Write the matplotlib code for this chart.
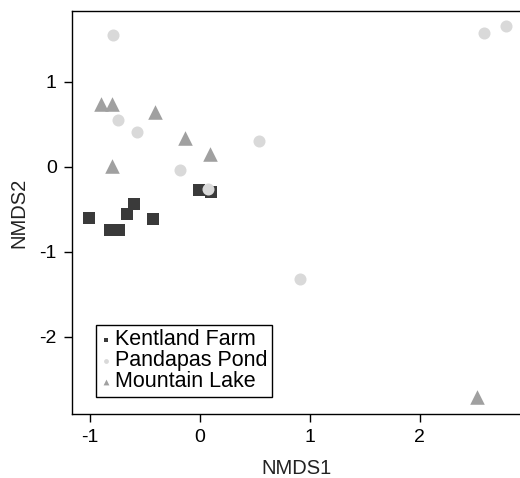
import matplotlib
matplotlib.use('Agg')
import matplotlib.pyplot as plt

plt.rcParams['font.family'] = ['Liberation Sans', 'DejaVu Sans']
plt.rcParams['axes.unicode_minus'] = False

# NMDS scores
kentland_x = [-1.01, -0.82, -0.74, -0.66, -0.60, -0.43, -0.01, 0.10]
kentland_y = [-0.60, -0.74, -0.74, -0.55, -0.435, -0.61, -0.27, -0.30]

pandapas_x = [-0.79, 2.58, 2.78, -0.75, -0.57, 0.54, -0.18, 0.07, 0.91]
pandapas_y = [1.55, 1.58, 1.66, 0.55, 0.41, 0.31, -0.035, -0.26, -1.32]

mountain_x = [-0.90, -0.80, -0.41, -0.80, -0.14, 0.09, 2.52]
mountain_y = [0.74, 0.74, 0.65, 0.015, 0.34, 0.157, -2.71]

fig = plt.figure(figsize=(5.2, 4.78), dpi=100)
ax = fig.add_axes([0.1385, 0.134, 0.8615, 0.843])

ax.scatter(kentland_x, kentland_y, marker='s', s=80, color='#3a3a3a',
           linewidths=0, label='Kentland Farm', zorder=3)
ax.scatter(pandapas_x, pandapas_y, marker='o', s=75, color='#d9d9d9',
           linewidths=0, label='Pandapas Pond', zorder=4)
ax.scatter(mountain_x, mountain_y, marker='^', s=110, color='#a0a0a0',
           linewidths=0, label='Mountain Lake', zorder=3)

ax.set_xlim(-1.164, 2.91)
ax.set_ylim(-2.906, 1.835)
ax.set_xticks([-1, 0, 1, 2])
ax.set_yticks([-2, -1, 0, 1])
ax.tick_params(direction='out', length=6, width=1, labelsize=14, colors='black', pad=5)
ax.spines['right'].set_visible(False)
for s in ['left', 'bottom', 'top']:
    ax.spines[s].set_linewidth(1)

ax.set_xlabel('NMDS1', fontsize=14.5, color='#222222', labelpad=9)
ax.set_ylabel('NMDS2', fontsize=14.5, color='#222222', labelpad=8)

leg = ax.legend(loc='lower left', bbox_to_anchor=(0.054, 0.042), borderaxespad=0,
                fontsize=15.5, markerscale=0.4, handletextpad=0.15, handlelength=0.5,
                labelspacing=0.0, borderpad=0.22, fancybox=False, framealpha=1,
                edgecolor='black')
leg.get_frame().set_linewidth(1)

fig.savefig('out.png', dpi=100)
